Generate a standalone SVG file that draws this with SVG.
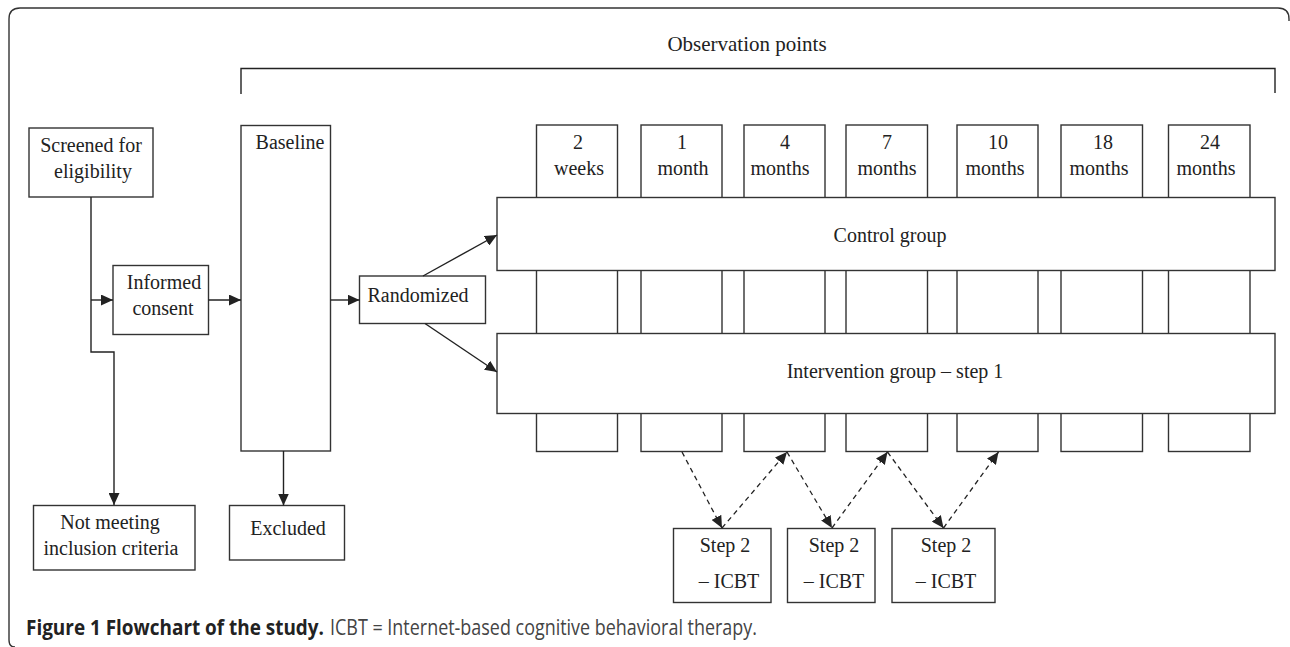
<svg xmlns="http://www.w3.org/2000/svg" width="1290" height="647" viewBox="0 0 1290 647">
<defs>
<style>
.box{fill:#fff;stroke:#333;stroke-width:1.4}
.t{font-family:"Liberation Serif","Times New Roman",serif;font-size:20px;fill:#222;text-anchor:middle}
.ln{fill:none;stroke:#222;stroke-width:1.4}
.dash{fill:none;stroke:#222;stroke-width:1.3;stroke-dasharray:5 4}
.cap{font-family:"Open Sans","Liberation Sans",sans-serif;font-size:21px}
</style>
<marker id="ah" markerUnits="userSpaceOnUse" markerWidth="13" markerHeight="11" refX="12" refY="5.5" orient="auto">
<path d="M0,0 L12,5.5 L0,11 Z" fill="#222"/>
</marker>
</defs>
<rect width="1290" height="647" fill="#fff"/>
<path d="M15,647 Q9,647 9,640 L9,19 Q9,8 20,8 L1278,8 Q1289,8 1289,19 L1289,21" fill="none" stroke="#333" stroke-width="1.4"/>

<g id="observation">
<text class="t" x="747" y="51" style="font-size:21px">Observation points</text>
<path class="ln" d="M241,94 L241,68.5 L1275,68.5 L1275,93"/>
</g>

<g id="col-2w"><rect class="box" x="536.5" y="125" width="81" height="326.5"/><text class="t" x="578" y="149">2</text><text class="t" x="579" y="175">weeks</text></g>
<g id="col-1m"><rect class="box" x="641" y="125" width="81" height="326.5"/><text class="t" x="682" y="149">1</text><text class="t" x="683" y="175">month</text></g>
<g id="col-4m"><rect class="box" x="744" y="125" width="81" height="326.5"/><text class="t" x="785" y="149">4</text><text class="t" x="780" y="175">months</text></g>
<g id="col-7m"><rect class="box" x="846" y="125" width="81.5" height="326.5"/><text class="t" x="887" y="149">7</text><text class="t" x="887" y="175">months</text></g>
<g id="col-10m"><rect class="box" x="957" y="125" width="81" height="326.5"/><text class="t" x="998" y="149">10</text><text class="t" x="995" y="175">months</text></g>
<g id="col-18m"><rect class="box" x="1061" y="125" width="81.5" height="326.5"/><text class="t" x="1103" y="149">18</text><text class="t" x="1099" y="175">months</text></g>
<g id="col-24m"><rect class="box" x="1168.5" y="125" width="81.5" height="326.5"/><text class="t" x="1210" y="149">24</text><text class="t" x="1206" y="175">months</text></g>

<g id="control"><rect class="box" x="497" y="197.5" width="778" height="73"/><text class="t" x="890" y="242">Control group</text></g>
<g id="intervention"><rect class="box" x="497" y="333.5" width="778" height="80"/><text class="t" x="895" y="378">Intervention group – step 1</text></g>

<g id="screened"><rect class="box" x="29" y="128" width="124" height="69"/><text class="t" x="91" y="152">Screened for</text><text class="t" x="93" y="178">eligibility</text></g>
<g id="informed"><rect class="box" x="113" y="265.5" width="95.5" height="69"/><text class="t" x="164" y="289">Informed</text><text class="t" x="163" y="315">consent</text></g>
<g id="baseline"><rect class="box" x="241" y="125.5" width="89.5" height="325.5"/><text class="t" x="290" y="149">Baseline</text></g>
<g id="randomized"><rect class="box" x="359.5" y="276" width="126" height="47.5"/><text class="t" x="418" y="302">Randomized</text></g>
<g id="notmeeting"><rect class="box" x="33.5" y="505.5" width="161.5" height="64.5"/><text class="t" x="110" y="529">Not meeting</text><text class="t" x="111" y="555">inclusion criteria</text></g>
<g id="excluded"><rect class="box" x="229.5" y="505.5" width="115" height="54.5"/><text class="t" x="288" y="535">Excluded</text></g>

<g id="step2a"><rect class="box" x="673.5" y="528.5" width="97.5" height="74"/><text class="t" x="725" y="552">Step 2</text><text class="t" x="729" y="588">– ICBT</text></g>
<g id="step2b"><rect class="box" x="787.5" y="528.5" width="87.5" height="74"/><text class="t" x="834" y="552">Step 2</text><text class="t" x="834" y="588">– ICBT</text></g>
<g id="step2c"><rect class="box" x="892" y="528.5" width="103" height="74"/><text class="t" x="946" y="552">Step 2</text><text class="t" x="946" y="588">– ICBT</text></g>

<g id="connectors">
<path class="ln" d="M91,197 L91,352 L114,352 L114,505" marker-end="url(#ah)"/>
<path class="ln" d="M91,300 L113,300" marker-end="url(#ah)"/>
<path class="ln" d="M208.5,300 L241,300" marker-end="url(#ah)"/>
<path class="ln" d="M330.5,300 L359.5,300" marker-end="url(#ah)"/>
<path class="ln" d="M283.5,451 L283.5,505.5" marker-end="url(#ah)"/>
<path class="ln" d="M423,276 L497,235" marker-end="url(#ah)"/>
<path class="ln" d="M425,323.5 L497,372" marker-end="url(#ah)"/>
<path class="dash" d="M682,452 L722,528" marker-end="url(#ah)"/>
<path class="dash" d="M722,528 L787,452" marker-end="url(#ah)"/>
<path class="dash" d="M787,452 L832,528" marker-end="url(#ah)"/>
<path class="dash" d="M832,528 L887.5,452" marker-end="url(#ah)"/>
<path class="dash" d="M887.5,452 L943.5,528" marker-end="url(#ah)"/>
<path class="dash" d="M943.5,528 L998.5,452" marker-end="url(#ah)"/>
</g>

<text class="cap" x="26" y="635"><tspan font-weight="700" fill="#222" textLength="298" lengthAdjust="spacingAndGlyphs">Figure 1 Flowchart of the study.</tspan></text>
<text class="cap" x="330" y="635" fill="#444" textLength="427" lengthAdjust="spacingAndGlyphs">ICBT = Internet-based cognitive behavioral therapy.</text>
</svg>
